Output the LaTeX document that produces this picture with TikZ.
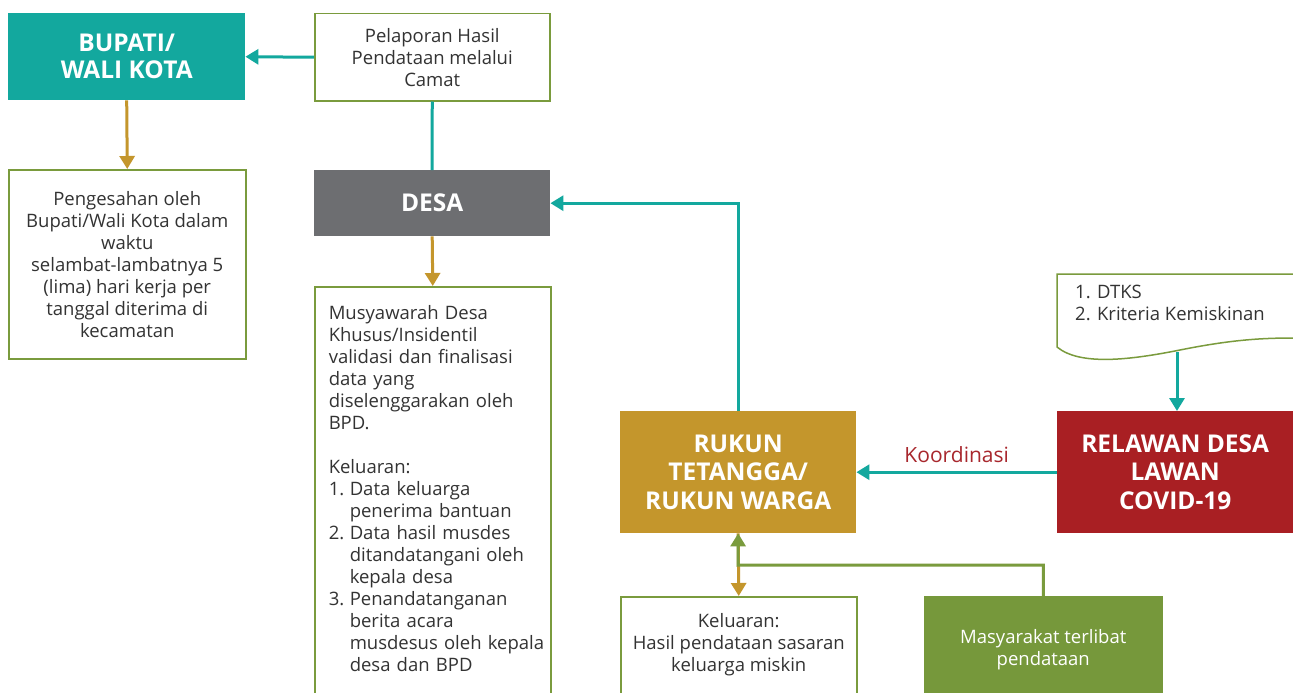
\documentclass[tikz,border=0pt]{standalone}
\usepackage{fontspec}
\setmainfont{Open Sans}
\usetikzlibrary{arrows.meta}
\definecolor{cteal}{HTML}{13A89E}
\definecolor{cgold}{HTML}{C4962C}
\definecolor{cgray}{HTML}{6D6E71}
\definecolor{cred}{HTML}{A91F23}
\definecolor{cgreen}{HTML}{7A9B3D}
\definecolor{cgreenfill}{HTML}{76983B}
\definecolor{ctext}{HTML}{333333}
\definecolor{ckoord}{HTML}{A8272D}
\newcommand{\itm}[1]{\makebox[21pt][l]{#1}}
\newcommand{\cnt}{\hspace*{21pt}}
\begin{document}
\begin{tikzpicture}[x=1pt,y=-1pt,
  box/.style={draw=cgreen, line width=1.5pt, fill=white, text=ctext, font=\fontsize{18.5}{22}\selectfont, align=center, inner sep=0pt, anchor=north west},
  title/.style={draw=none, text=white, font=\fontsize{24.5}{28.5}\selectfont\bfseries, align=center, anchor=north west, inner sep=0pt},
  arr/.style={line width=3pt, -{Triangle[width=15pt,length=13pt]}},
  conn/.style={line width=3pt}]
\useasboundingbox (0,0) rectangle (1293,693);
\clip (0,0) rectangle (1293,693);
\fill[white] (0,0) rectangle (1293,693);

\node[title, fill=cteal, minimum width=237, minimum height=87, font=\fontsize{24.5}{27}\selectfont\bfseries] (bup) at (8,13) {BUPATI/\\WALI KOTA};
\node[box, minimum width=235, minimum height=87] (lap) at (314,13) {Pelaporan Hasil\\Pendataan melalui\\Camat};
\node[box, minimum width=237, minimum height=189] (sah) at (8,169) {Pengesahan oleh\\Bupati/Wali Kota dalam\\waktu\\selambat-lambatnya 5\\(lima) hari kerja per\\tanggal diterima di\\kecamatan};
\node[title, fill=cgray, minimum width=236, minimum height=66] (desa) at (314,170) {DESA};
\node[box, minimum width=236, minimum height=414, text width=208, align=left] (musy) at (314,286) {Musyawarah Desa\\Khusus/Insidentil\\validasi dan finalisasi\\data yang\\diselenggarakan oleh\\BPD.\\[22pt]Keluaran:\\\itm{1.}Data keluarga\\\cnt penerima bantuan\\\itm{2.}Data hasil musdes\\\cnt ditandatangani oleh\\\cnt kepala desa\\\itm{3.}Penandatanganan\\\cnt berita acara\\\mbox{\cnt musdesus oleh kepala}\\\cnt desa dan BPD\\[-12pt]\mbox{}};
\node[title, fill=cgold, minimum width=236, minimum height=122] (rt) at (620,411) {RUKUN\\TETANGGA/\\RUKUN WARGA};
\node[title, fill=cred, minimum width=236, minimum height=122] (rel) at (1057,411) {RELAWAN DESA\\LAWAN\\COVID-19};
\node[box, minimum width=236, minimum height=106] (kel) at (620,596) {Keluaran:\\Hasil pendataan sasaran\\keluarga miskin\\[-8pt]\mbox{}};
\node[box, fill=cgreenfill, draw=cgreenfill, text=white, minimum width=237, minimum height=106] (mas) at (924,596) {Masyarakat terlibat\\pendataan};

% document shape
\filldraw[draw=cgreen, fill=white, line width=1.5pt] (1294,274) -- (1057,274) -- (1057,347)
  .. controls (1080,366) and (1130,360) .. (1180,350)
  .. controls (1230,340) and (1260,338) .. (1294,338);
\node[anchor=north west, align=left, inner sep=0pt, text=ctext, font=\fontsize{18.5}{22}\selectfont] (dtks) at (1075,285) {1. DTKS\\2. Kriteria Kemiskinan};
\coordinate (docb) at (1177,352);

% connectors
\draw[arr, cteal] (lap.west) -- (bup.east);
\draw[conn, cteal] (lap.south) -- (desa.north);
\draw[arr, cgold] (bup.south) -- (sah.north);
\draw[arr, cgold] (desa.south) -- (musy.north);
\draw[arr, cteal] (rt.north) |- (desa.east);
\draw[arr, cteal] (rel.west) -- node[above=5pt, text=ckoord, font=\fontsize{21}{24}\selectfont] (koord) {Koordinasi} (rt.east);
\draw[arr, cteal] (docb) -- (docb |- rel.north);
\draw[arr, cgold] (rt.south) -- (kel.north);
\coordinate (j) at (738,565);
\draw[arr, cgreen] (mas.north) |- (j) -- (rt.south);
\end{tikzpicture}
\end{document}
